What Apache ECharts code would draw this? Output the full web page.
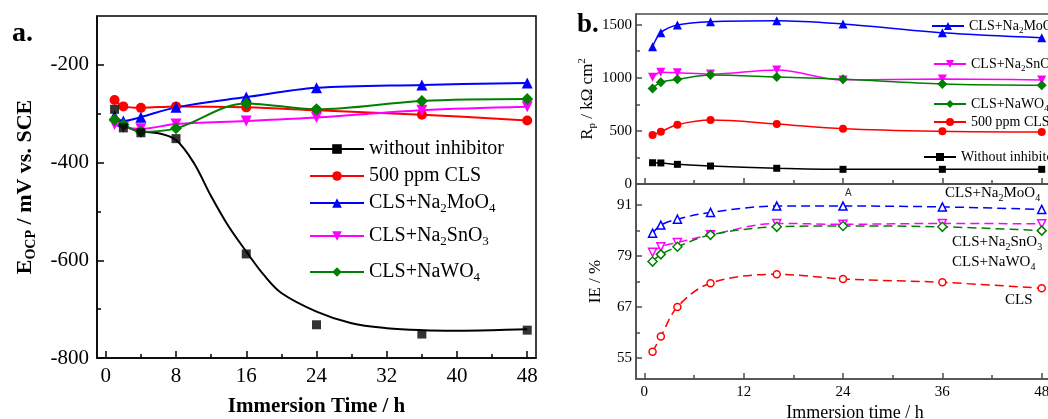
<!DOCTYPE html>
<html>
<head>
<meta charset="utf-8">
<script src="https://cdn.jsdelivr.net/npm/echarts@6/dist/echarts.min.js"></script>
<style>
  html, body { margin: 0; padding: 0; background: #fff; }
  #chart { width: 1048px; height: 419px; }
</style>
</head>
<body>
<div id="chart"></div>
<script>
var times = [1, 2, 4, 8, 16, 24, 36, 48];

// a. open circuit potential (mV vs. SCE)
var ocpBlank = [-291, -329, -339, -351, -587, -732, -751, -743];
var ocpCls = [-272, -285, -288, -285, -287, -293, -302, -314];
var ocpMo = [-304, -315, -307, -287, -266, -247, -241, -237];
var ocpSn = [-322, -328, -331, -321, -315, -308, -293, -286];
var ocpW = [-312, -322, -337, -330, -279, -291, -274, -270];
// fitted curve drawn through the blank points
var fitTimes = [1, 2, 4, 6, 8, 10, 12, 14, 16, 18, 20, 24, 28, 32, 36, 40, 44, 48];
var fitBlank = [-303, -324, -336, -340, -354, -400, -469, -531, -582, -630, -667, -705, -729, -739, -743, -744, -743, -741];

// b. polarization resistance (kOhm cm2) and inhibition efficiency (%)
var rpBlank = [200, 198, 185, 169, 148, 138, 138, 138];
var rpCls = [461, 492, 558, 602, 565, 520, 496, 489];
var rpMo = [1292, 1424, 1496, 1528, 1537, 1506, 1424, 1377];
var rpSn = [1004, 1051, 1048, 1035, 1073, 980, 988, 979];
var rpW = [900, 957, 985, 1026, 1007, 985, 941, 929];
var ieCls = [56.4, 60.0, 67.0, 72.6, 74.7, 73.6, 72.8, 71.4];
var ieMo = [84.4, 86.3, 87.7, 89.3, 90.8, 90.8, 90.6, 90.0];
var ieSn = [79.9, 81.2, 82.2, 84.0, 86.7, 86.5, 86.7, 86.6];
var ieW = [77.7, 79.4, 81.2, 84.0, 85.9, 86.1, 85.9, 85.0];

// tick labels
var aXTicks = [0, 8, 16, 24, 32, 40, 48];
var aXMinor = [4, 12, 20, 28, 36, 44];
var aYTicks = [-800, -600, -400, -200];
var aYMinor = [-700, -500, -300];
var bXTicks = [0, 12, 24, 36, 48];
var bXMinor = [6, 18, 30, 42];
var rpTicks = [0, 500, 1000, 1500];
var rpMinor = [250, 750, 1250];
var ieTicks = [55, 67, 79, 91];
var ieMinor = [61, 73, 85];

var FONT = "'Liberation Serif', 'Times New Roman', serif";
var BLACK = '#000', RED = '#ff0000', BLUE = '#0000ff', MAGENTA = '#ff00ff', GREEN = '#008000';
var GREY = '#4d4d4d';

function zip(xs, ys) {
  return xs.map(function (x, i) { return [x, ys[i]]; });
}

// turn "CLS+Na2MoO4" into rich text with subscripts
function chem(s) {
  var out = '', re = /([A-Za-z])(\d+)/g, last = 0, m;
  while ((m = re.exec(s))) {
    out += '{n|' + s.slice(last, m.index + 1) + '}{s|' + m[2] + '}';
    last = m.index + m[0].length;
  }
  if (last < s.length) out += '{n|' + s.slice(last) + '}';
  return out;
}

function richPair(size, color, weight) {
  var w = weight || 'normal', small = Math.round(size * 0.65);
  return {
    n: { fontFamily: FONT, fontSize: size, color: color, fontWeight: w, lineHeight: size + 4 },
    s: { fontFamily: FONT, fontSize: small, color: color, fontWeight: w, lineHeight: Math.round(size * 0.5), verticalAlign: 'bottom' },
    p: { fontFamily: FONT, fontSize: small, color: color, fontWeight: w, lineHeight: Math.round(size * 0.5), verticalAlign: 'top' }
  };
}

function axis(grid, pos, min, max, values, len, color, label, extra) {
  var a = {
    type: 'value', gridIndex: grid, position: pos, min: min, max: max,
    splitLine: { show: false },
    axisLine: { show: label !== null, onZero: false, lineStyle: { color: color, width: 1.5 } },
    axisTick: { show: true, inside: true, length: len, customValues: values, lineStyle: { color: color, width: 1.5 } },
    axisLabel: label ? Object.assign({
      customValues: values, color: '#000', fontFamily: FONT,
      formatter: function (v) { return String(v); }
    }, label) : { show: false }
  };
  return Object.assign(a, extra || {});
}

var chart = echarts.init(document.getElementById('chart'));

var aNames = ['without inhibitor', '500 ppm CLS', 'CLS+Na2MoO4', 'CLS+Na2SnO3', 'CLS+NaWO4'];
var aLegTops = [134, 161, 188, 221, 257];
var bNames = ['CLS+Na2MoO4 ', 'CLS+Na2SnO3 ', 'CLS+NaWO4 ', '500 ppm CLS ', 'Without inhibitor '];
var bLegTops = [14, 52, 92, 110, 145];
var bLegLefts = [926, 928, 928, 928, 918];

function lineSeries(name, xi, yi, data, color, symbol, size, rotate, width) {
  return {
    name: name, type: 'line', xAxisIndex: xi, yAxisIndex: yi, data: data,
    smooth: 0.35, symbol: symbol, symbolSize: size, symbolRotate: rotate || 0,
    lineStyle: { color: color, width: width }, itemStyle: { color: color },
    emphasis: { disabled: true }, z: 3
  };
}

function ieSeries(xi, yi, data, color, symbol, size, rotate) {
  return {
    type: 'line', xAxisIndex: xi, yAxisIndex: yi, data: data,
    smooth: 0.35, symbol: symbol, symbolSize: size, symbolRotate: rotate || 0,
    lineStyle: { color: color, width: 1.5, type: [9, 5] },
    itemStyle: { color: '#fff', borderColor: color, borderWidth: 1.5 },
    emphasis: { disabled: true }, z: 3
  };
}

var legends = [];
aNames.forEach(function (nm, i) {
  legends.push({
    data: [nm], left: 304, top: aLegTops[i], itemWidth: 54, itemHeight: 12,
    formatter: function (name) { return chem(name); },
    textStyle: { rich: richPair(20, '#000') }
  });
});
bNames.forEach(function (nm, i) {
  legends.push({
    data: [nm], left: bLegLefts[i], top: bLegTops[i], itemWidth: 32, itemHeight: 10,
    formatter: function (name) { return chem(name.trim()); },
    textStyle: { rich: richPair(14, '#000') }
  });
});

var option = {
  animation: false,
  backgroundColor: '#fff',
  grid: [
    { left: 97, top: 16, width: 439, height: 342, show: true, borderColor: BLACK, borderWidth: 1.5,
      backgroundColor: 'transparent', outerBoundsMode: 'none' },
    { left: 636, top: 14, width: 414, height: 170, show: true, borderColor: GREY, borderWidth: 1.5,
      backgroundColor: 'transparent', outerBoundsMode: 'none' },
    { left: 636, top: 184, width: 414, height: 195, show: true, borderColor: GREY, borderWidth: 1.5,
      backgroundColor: 'transparent', outerBoundsMode: 'none' }
  ],
  legend: legends,
  xAxis: [
    axis(0, 'bottom', -1, 49, aXTicks, 7, BLACK, { fontSize: 21, margin: 8 }, {
      name: 'Immersion Time / h', nameLocation: 'middle', nameGap: 38,
      nameTextStyle: { fontFamily: FONT, fontSize: 21, fontWeight: 'bold', color: '#000' }
    }),
    axis(0, 'bottom', -1, 49, aXMinor, 4, BLACK, null),
    axis(1, 'bottom', -1, 49, bXTicks, 6, GREY, { show: false }),
    axis(1, 'bottom', -1, 49, bXMinor, 4, GREY, null),
    axis(2, 'bottom', -1, 49, bXTicks, 6, GREY, { fontSize: 15, margin: 6 }, {
      name: 'Immersion time / h', nameLocation: 'middle', nameGap: 25,
      nameTextStyle: { fontFamily: FONT, fontSize: 18, color: '#000', padding: [0, 0, 0, 24] }
    }),
    axis(2, 'bottom', -1, 49, bXMinor, 4, GREY, null)
  ],
  yAxis: [
    axis(0, 'left', -800, -100, aYTicks, 7, BLACK, { fontSize: 21, margin: 8 }, {
      name: '{n|E}{s|OCP}{n| / mV vs. SCE}', nameLocation: 'middle', nameGap: 59, nameRotate: 90,
      nameTextStyle: { rich: richPair(22, '#000', 'bold') }
    }),
    axis(0, 'left', -800, -100, aYMinor, 4, BLACK, null),
    axis(1, 'left', 0, 1600, rpTicks, 6, GREY, { fontSize: 15, margin: 4 }, {
      name: '{n|R}{s|p}{n| / kΩ cm}{p|2}', nameLocation: 'middle', nameGap: 34, nameRotate: 90,
      nameTextStyle: { rich: richPair(17, '#000') }
    }),
    axis(1, 'left', 0, 1600, rpMinor, 4, GREY, null),
    axis(2, 'left', 50, 96, ieTicks, 6, GREY, { fontSize: 15, margin: 4 }, {
      name: 'IE / %', nameLocation: 'middle', nameGap: 32, nameRotate: 90,
      nameTextStyle: { fontFamily: FONT, fontSize: 17, color: '#000' }
    }),
    axis(2, 'left', 50, 96, ieMinor, 4, GREY, null)
  ],
  series: [
    // panel a
    Object.assign(lineSeries(aNames[0], 0, 0, zip(fitTimes, fitBlank), BLACK, 'rect', 8, 0, 2), { showSymbol: false }),
    { type: 'scatter', xAxisIndex: 0, yAxisIndex: 0, data: zip(times, ocpBlank), symbol: 'rect', symbolSize: 9,
      itemStyle: { color: BLACK }, emphasis: { disabled: true }, z: 4 },
    lineSeries(aNames[1], 0, 0, zip(times, ocpCls), RED, 'circle', 10, 0, 2),
    lineSeries(aNames[2], 0, 0, zip(times, ocpMo), BLUE, 'triangle', 11, 0, 2),
    lineSeries(aNames[3], 0, 0, zip(times, ocpSn), MAGENTA, 'triangle', 11, 180, 2),
    lineSeries(aNames[4], 0, 0, zip(times, ocpW), GREEN, 'diamond', 12, 0, 2),
    // panel b, Rp
    lineSeries(bNames[4], 2, 2, zip(times, rpBlank), BLACK, 'rect', 7, 0, 1.5),
    lineSeries(bNames[3], 2, 2, zip(times, rpCls), RED, 'circle', 8, 0, 1.5),
    lineSeries(bNames[0], 2, 2, zip(times, rpMo), BLUE, 'triangle', 9, 0, 1.5),
    lineSeries(bNames[1], 2, 2, zip(times, rpSn), MAGENTA, 'triangle', 9, 180, 1.5),
    lineSeries(bNames[2], 2, 2, zip(times, rpW), GREEN, 'diamond', 10, 0, 1.5),
    // panel b, IE
    ieSeries(4, 4, zip(times, ieCls), RED, 'circle', 7, 0),
    ieSeries(4, 4, zip(times, ieSn), MAGENTA, 'triangle', 8, 180),
    ieSeries(4, 4, zip(times, ieW), GREEN, 'diamond', 9, 0),
    ieSeries(4, 4, zip(times, ieMo), BLUE, 'triangle', 8, 0)
  ],
  graphic: [
    { type: 'text', left: 12, top: 20, style: { text: 'a.', font: 'bold 28px ' + FONT, fill: '#000' } },
    { type: 'text', left: 577, top: 12, style: { text: 'b.', font: 'bold 27px ' + FONT, fill: '#000' } },
    { type: 'text', left: 845, top: 188, style: { text: 'A', font: '10px sans-serif', fill: '#333' } },
    { type: 'text', left: 945, top: 186, style: { text: chem('CLS+Na2MoO4'), rich: richPair(15, BLUE) } },
    { type: 'text', left: 952, top: 235, style: { text: chem('CLS+Na2SnO3'), rich: richPair(15, MAGENTA) } },
    { type: 'text', left: 952, top: 255, style: { text: chem('CLS+NaWO4'), rich: richPair(15, GREEN) } },
    { type: 'text', left: 1005, top: 293, style: { text: '{n|CLS}', rich: richPair(15, RED) } }
  ]
};

chart.setOption(option);
</script>
</body>
</html>
